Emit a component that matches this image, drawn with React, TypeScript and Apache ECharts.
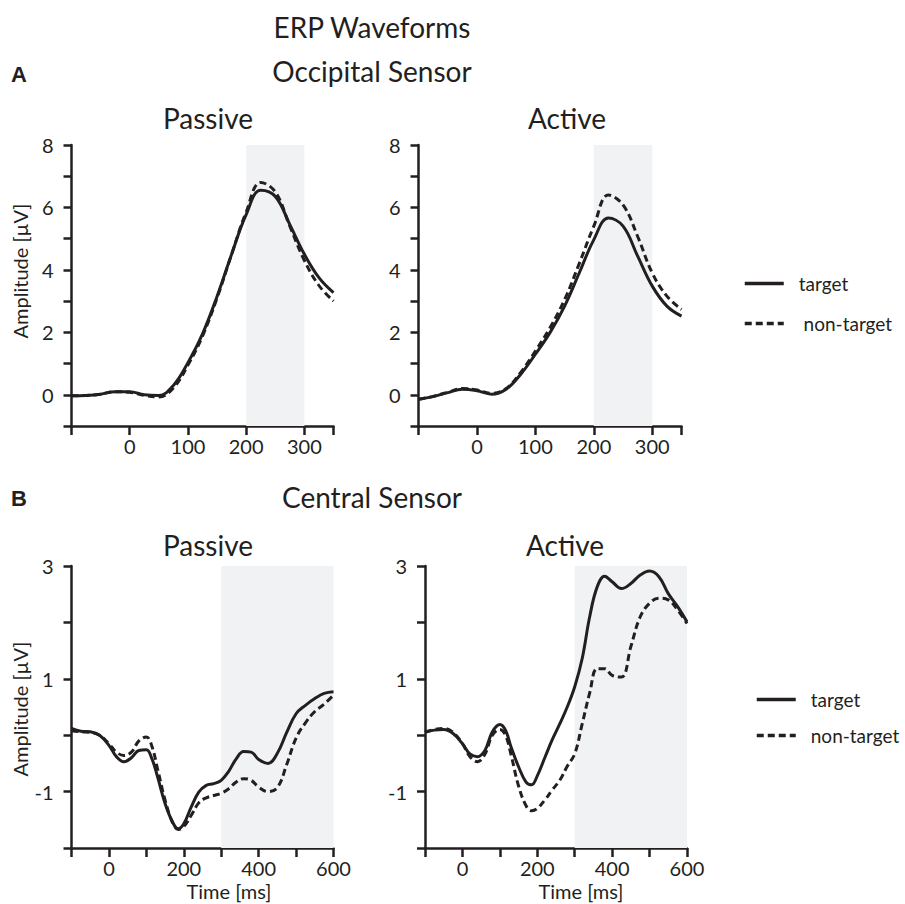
import React, { useEffect, useRef } from "react";
import * as echarts from "echarts";

// ---------- Data ----------
const occTimes = [-100, -75, -50, -25, 0, 25, 50, 75, 100, 125, 150, 175, 200, 225, 250, 275, 300, 325, 350];
const occPassiveTarget = [-0.03, -0.02, 0.02, 0.1, 0.1, 0.0, -0.02, 0.3, 1.03, 1.95, 3.15, 4.5, 5.77, 6.55, 6.35, 5.45, 4.5, 3.75, 3.27];
const occPassiveNonTarget = [-0.03, -0.02, 0.02, 0.1, 0.08, -0.02, -0.07, 0.22, 0.95, 1.88, 3.1, 4.5, 5.85, 6.8, 6.5, 5.4, 4.3, 3.5, 3.0];
const occActiveTarget = [-0.14, -0.06, 0.07, 0.18, 0.13, 0.02, 0.18, 0.66, 1.3, 1.99, 2.84, 3.9, 4.97, 5.66, 5.4, 4.44, 3.48, 2.84, 2.52];
const occActiveNonTarget = [-0.14, -0.05, 0.08, 0.2, 0.15, 0.05, 0.2, 0.72, 1.4, 2.15, 3.05, 4.2, 5.4, 6.4, 6.08, 5.07, 3.9, 3.16, 2.73];

const cenTimes = [-100, -75, -50, -25, 0, 20, 40, 60, 80, 100, 115, 130, 150, 170, 185, 200, 220, 240, 260, 280, 300, 320, 340, 360, 380, 400, 425, 450, 475, 500, 525, 550, 575, 600];
const cenPassiveTarget = [0.12, 0.07, 0.06, 0.0, -0.18, -0.38, -0.47, -0.4, -0.27, -0.26, -0.42, -0.74, -1.21, -1.54, -1.66, -1.57, -1.27, -1.01, -0.89, -0.86, -0.8, -0.64, -0.42, -0.29, -0.3, -0.43, -0.5, -0.32, 0.05, 0.38, 0.53, 0.65, 0.74, 0.77];
const cenPassiveNonTarget = [0.08, 0.06, 0.05, 0.0, -0.15, -0.3, -0.36, -0.3, -0.1, -0.03, -0.2, -0.6, -1.15, -1.55, -1.67, -1.62, -1.42, -1.2, -1.11, -1.07, -1.03, -0.95, -0.83, -0.77, -0.8, -0.92, -1.0, -0.93, -0.52, -0.05, 0.22, 0.42, 0.55, 0.71];
const cenActiveTarget = [0.06, 0.09, 0.1, 0.03, -0.15, -0.33, -0.38, -0.27, 0.06, 0.19, 0.09, -0.21, -0.56, -0.83, -0.88, -0.72, -0.4, -0.08, 0.2, 0.5, 0.86, 1.36, 2.1, 2.63, 2.82, 2.72, 2.6, 2.69, 2.84, 2.91, 2.81, 2.51, 2.28, 2.01];
const cenActiveNonTarget = [0.05, 0.1, 0.12, 0.05, -0.15, -0.38, -0.47, -0.34, 0.0, 0.1, 0.0, -0.35, -0.9, -1.25, -1.34, -1.3, -1.15, -0.97, -0.8, -0.55, -0.33, 0.2, 0.75, 1.18, 1.18, 1.06, 1.03, 1.57, 2.1, 2.34, 2.43, 2.4, 2.22, 1.98];

const seriesNames = ["target", "non-target"];
const occWindow = [200, 300];
const cenWindow = [300, 600];

// ---------- Styles ----------
const INK = "#231f20";
const FONT = "Lato, 'Open Sans', sans-serif";
const SHADE = "#f1f2f4";
const DASH = [7, 4];

const zip = (xs: number[], ys: number[]) => xs.map((x, i) => [x, ys[i]]);

export default function App() {
  const ref = useRef<HTMLDivElement>(null);

  useEffect(() => {
    if (!ref.current) return;
    const chart = echarts.init(ref.current, null, { renderer: "svg" });

    const grids = [
      { left: 71.5, top: 145, width: 262, height: 281 },
      { left: 418.5, top: 145, width: 263, height: 281 },
      { left: 71.5, top: 566, width: 262, height: 282 },
      { left: 425, top: 566, width: 262, height: 282 },
    ];

    const axisLine = { show: true, onZero: false, lineStyle: { color: INK, width: 2.5 } };
    const labelStyle = { color: INK, fontFamily: FONT, fontSize: 20 };

    const occX = (gi: number) => ({
      type: "value",
      gridIndex: gi,
      min: -100,
      max: 350,
      interval: 100,
      axisLine,
      axisTick: { show: true, length: 9, lineStyle: { color: INK, width: 2.5 } },
      axisLabel: {
        ...labelStyle,
        margin: 10,
        showMinLabel: true,
        showMaxLabel: true,
        hideOverlap: false,
        formatter: (v: number) => (v >= 0 && v <= 300 ? String(v) : ""),
      },
      splitLine: { show: false },
    });
    const cenX = (gi: number) => ({
      type: "value",
      gridIndex: gi,
      min: -100,
      max: 600,
      interval: 100,
      axisLine,
      axisTick: { show: true, length: 9, lineStyle: { color: INK, width: 2.5 } },
      axisLabel: {
        ...labelStyle,
        margin: 10,
        hideOverlap: false,
        formatter: (v: number) => (v >= 0 && v % 200 === 0 ? String(v) : ""),
      },
      splitLine: { show: false },
    });
    const occY = (gi: number) => ({
      type: "value",
      gridIndex: gi,
      min: -1,
      max: 8,
      interval: 1,
      axisLine,
      axisTick: { show: true, length: 8, lineStyle: { color: INK, width: 2.5 } },
      axisLabel: {
        ...labelStyle,
        margin: 18,
        formatter: (v: number) => (v >= 0 && v % 2 === 0 ? String(v) : ""),
      },
      splitLine: { show: false },
    });
    const cenY = (gi: number) => ({
      type: "value",
      gridIndex: gi,
      min: -2,
      max: 3,
      interval: 1,
      axisLine,
      axisTick: { show: true, length: 8, lineStyle: { color: INK, width: 2.5 } },
      axisLabel: {
        ...labelStyle,
        margin: 18,
        formatter: (v: number) => (v === 3 || v === 1 || v === -1 ? String(v) : ""),
      },
      splitLine: { show: false },
    });

    const mkSeries = (
      gi: number,
      name: string,
      xs: number[],
      ys: number[],
      dashed: boolean,
      win?: number[]
    ) => ({
      type: "line",
      name,
      xAxisIndex: gi,
      yAxisIndex: gi,
      data: zip(xs, ys),
      smooth: 0.4,
      symbol: "none",
      lineStyle: { color: INK, width: 3, type: dashed ? DASH : "solid" },
      itemStyle: { color: INK },
      z: dashed ? 3 : 4,
      markArea: win
        ? {
            silent: true,
            itemStyle: { color: SHADE },
            data: [[{ xAxis: win[0] }, { xAxis: win[1] }]],
          }
        : undefined,
    });

    const txt = (
      text: string,
      x: number,
      y: number,
      size: number,
      opts: any = {}
    ) => ({
      type: "text",
      x,
      y,
      rotation: opts.rotation || 0,
      style: {
        text,
        fill: INK,
        fontFamily: opts.family || FONT,
        fontSize: size,
        fontWeight: opts.weight || "normal",
        align: opts.align || "center",
        verticalAlign: "middle",
      },
    });

    const legendBase = {
      data: seriesNames,
      orient: "vertical",
      itemWidth: 39,
      itemHeight: 14,
      selectedMode: false,
      itemStyle: { opacity: 0 },
      lineStyle: { width: 3.5 },
      textStyle: { color: INK, fontFamily: FONT, fontSize: 19, padding: [0, 0, 0, 10] },
    };

    const option = {
      animation: false,
      backgroundColor: "#ffffff",
      grid: grids,
      xAxis: [occX(0), occX(1), cenX(2), cenX(3)],
      yAxis: [occY(0), occY(1), cenY(2), cenY(3)],
      legend: [
        {
          ...legendBase,
          left: 738,
          top: 269,
          itemGap: 21,
          formatter: (n: string) => (n === "non-target" ? " non-target" : n),
        },
        { ...legendBase, left: 750, top: 685, itemGap: 17 },
      ],
      series: [
        mkSeries(0, seriesNames[1], occTimes, occPassiveNonTarget, true),
        mkSeries(0, seriesNames[0], occTimes, occPassiveTarget, false, occWindow),
        mkSeries(1, seriesNames[1], occTimes, occActiveNonTarget, true),
        mkSeries(1, seriesNames[0], occTimes, occActiveTarget, false, occWindow),
        mkSeries(2, seriesNames[1], cenTimes, cenPassiveNonTarget, true),
        mkSeries(2, seriesNames[0], cenTimes, cenPassiveTarget, false, cenWindow),
        mkSeries(3, seriesNames[1], cenTimes, cenActiveNonTarget, true),
        mkSeries(3, seriesNames[0], cenTimes, cenActiveTarget, false, cenWindow),
      ],
      graphic: [
        txt("ERP Waveforms", 372, 27, 28),
        txt("A", 11, 74, 22, { align: "left", weight: "bold", family: "'Liberation Sans', Arial, sans-serif" }),
        txt("Occipital Sensor", 372, 71, 28),
        txt("Passive", 208, 118, 28),
        txt("Active", 567, 118, 28),
        txt("B", 11, 498, 22, { align: "left", weight: "bold", family: "'Liberation Sans', Arial, sans-serif" }),
        txt("Central Sensor", 372, 497, 28),
        txt("Passive", 208, 545, 28),
        txt("Active", 565, 545, 28),
        txt("Amplitude [µV]", 19.5, 271, 20, { rotation: Math.PI / 2 }),
        txt("Amplitude [µV]", 19.5, 709, 20, { rotation: Math.PI / 2 }),
        txt("Time [ms]", 229, 891, 20),
        txt("Time [ms]", 581, 891, 20),
      ],
    };

    chart.setOption(option as any);
    return () => chart.dispose();
  }, []);

  return (
    <div
      ref={ref}
      style={{ position: "absolute", left: 0, top: 0, width: 905, height: 904, background: "#fff" }}
    />
  );
}
